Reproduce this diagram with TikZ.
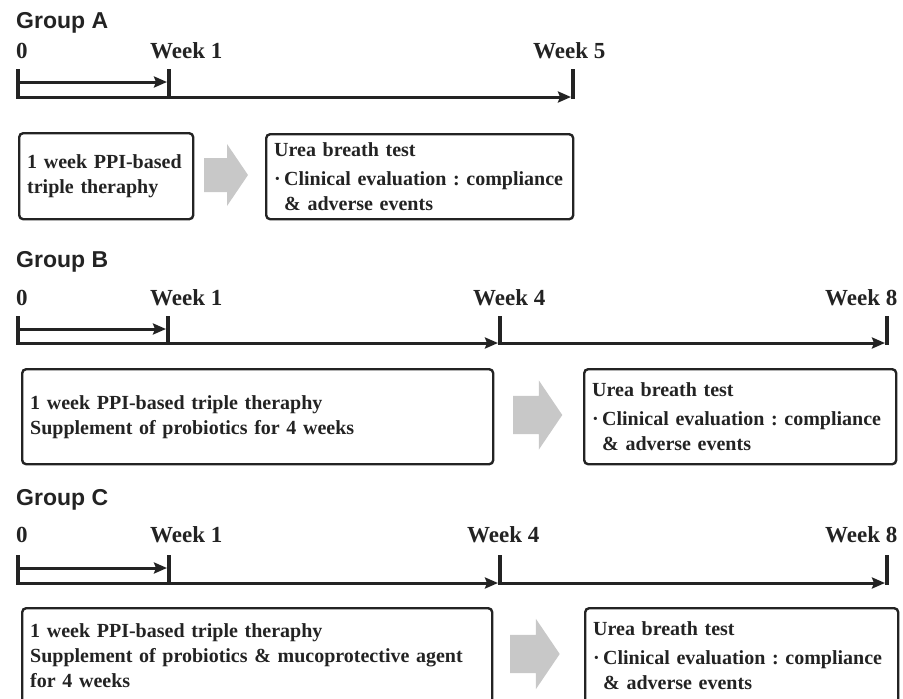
\documentclass[tikz,border=0pt]{standalone}
\usepackage{fontspec}
\setmainfont{Liberation Serif}
\newfontfamily\grpfont{Liberation Sans}
\usetikzlibrary{arrows.meta}
\definecolor{ink}{RGB}{35,35,35}
\definecolor{arrowgray}{RGB}{200,200,200}
\newcommand\boxtxt{\fontsize{20}{25}\selectfont\bfseries\frenchspacing\hyphenpenalty=10000 }

\begin{document}
\begin{tikzpicture}[x=1pt,y=-1pt,>={Stealth[length=13pt,width=11pt,inset=2pt]},
  every node/.style={text=ink,inner sep=0pt},
  lbl/.style={anchor=base west,font=\fontsize{23}{26}\selectfont\bfseries},
  grp/.style={anchor=base west,font=\fontsize{23}{26}\selectfont\grpfont\bfseries},
  axis/.style={draw=ink,line width=3pt},
  tick/.style={draw=ink,line width=4.5pt},
  box/.style={draw=ink,line width=2.4pt,rounded corners=4pt,anchor=north west,align=left,
    inner xsep=8pt,inner ysep=0pt,font=\boxtxt},
  blockarrow/.pic={\fill[arrowgray] (0,-17)--(23,-17)--(23,-31)--(44,0)--(23,31)--(23,17)--(0,17)--cycle;}]
\useasboundingbox (0,0) rectangle (903,699);
% Group A
\node[grp] (ga) at (16,28) {Group A};
\node[lbl] (a0l) at (16,58) {0};
\node[lbl] (a1l) at (150,58) {Week 1};
\node[lbl] (a5l) at (533,58) {Week 5};
\coordinate (a0i) at (18,82); \coordinate (a1i) at (167,82);
\coordinate (a0) at (18,97); \coordinate (a5) at (571,97);
\foreach \x in {18,169,573} \draw[tick] (\x,69)--(\x,99);
\draw[axis,->] (a0i)--(a1i);
\draw[axis,->] (a0)--(a5);
\node[box,text width=158pt,minimum height=86pt] (a1box) at (18,132) {1 week PPI-based\\triple theraphy};
\pic at (204,175) {blockarrow};
\node[box,text width=291pt,minimum height=85pt] (a2box) at (265,133)
  {Urea breath test\\[4pt]\makebox[10pt][l]{·}Clinical evaluation : compliance\\\hspace*{10pt}\& adverse events};
% Group B
\node[grp] (gb) at (16,267) {Group B};
\node[lbl] (b0l) at (16,305) {0};
\node[lbl] (b1l) at (150,305) {Week 1};
\node[lbl] (b4l) at (473,305) {Week 4};
\node[lbl] (b8l) at (825,305) {Week 8};
\coordinate (b0i) at (18,329); \coordinate (b1i) at (166,329);
\coordinate (b0) at (18,343); \coordinate (b4) at (498,343); \coordinate (b4s) at (500,343); \coordinate (b8) at (885,343);
\foreach \x in {18,168,500,887} \draw[tick] (\x,316)--(\x,345);
\draw[axis,->] (b0i)--(b1i);
\draw[axis,->] (b0)--(b4);
\draw[axis,->] (b4s)--(b8);
\node[box,text width=455pt,minimum height=95pt] (b1box) at (21,368)
  {1 week PPI-based triple theraphy\\Supplement of probiotics for 4 weeks};
\pic[scale=1.12] at (513,415) {blockarrow};
\node[box,text width=296pt,minimum height=95pt] (b2box) at (583,368)
  {Urea breath test\\[4pt]\makebox[10pt][l]{·}Clinical evaluation : compliance\\\hspace*{10pt}\& adverse events};
% Group C
\node[grp] (gc) at (16,505) {Group C};
\node[lbl] (c0l) at (16,542) {0};
\node[lbl] (c1l) at (150,542) {Week 1};
\node[lbl] (c4l) at (467,542) {Week 4};
\node[lbl] (c8l) at (825,542) {Week 8};
\coordinate (c0i) at (18,568); \coordinate (c1i) at (167,568);
\coordinate (c0) at (18,583); \coordinate (c4) at (498,583); \coordinate (c4s) at (500,583); \coordinate (c8) at (885,583);
\foreach \x in {18,169,500,887} \draw[tick] (\x,555)--(\x,585);
\draw[axis,->] (c0i)--(c1i);
\draw[axis,->] (c0)--(c4);
\draw[axis,->] (c4s)--(c8);
\node[box,text width=454pt,minimum height=95pt] (c1box) at (21,607)
  {1 week PPI-based triple theraphy\\Supplement of probiotics \& mucoprotective agent\\for 4 weeks};
\pic[scale=1.13] at (510,654) {blockarrow};
\node[box,text width=297pt,minimum height=95pt] (c2box) at (584,607)
  {Urea breath test\\[4pt]\makebox[10pt][l]{·}Clinical evaluation : compliance\\\hspace*{10pt}\& adverse events};
\end{tikzpicture}
\end{document}
